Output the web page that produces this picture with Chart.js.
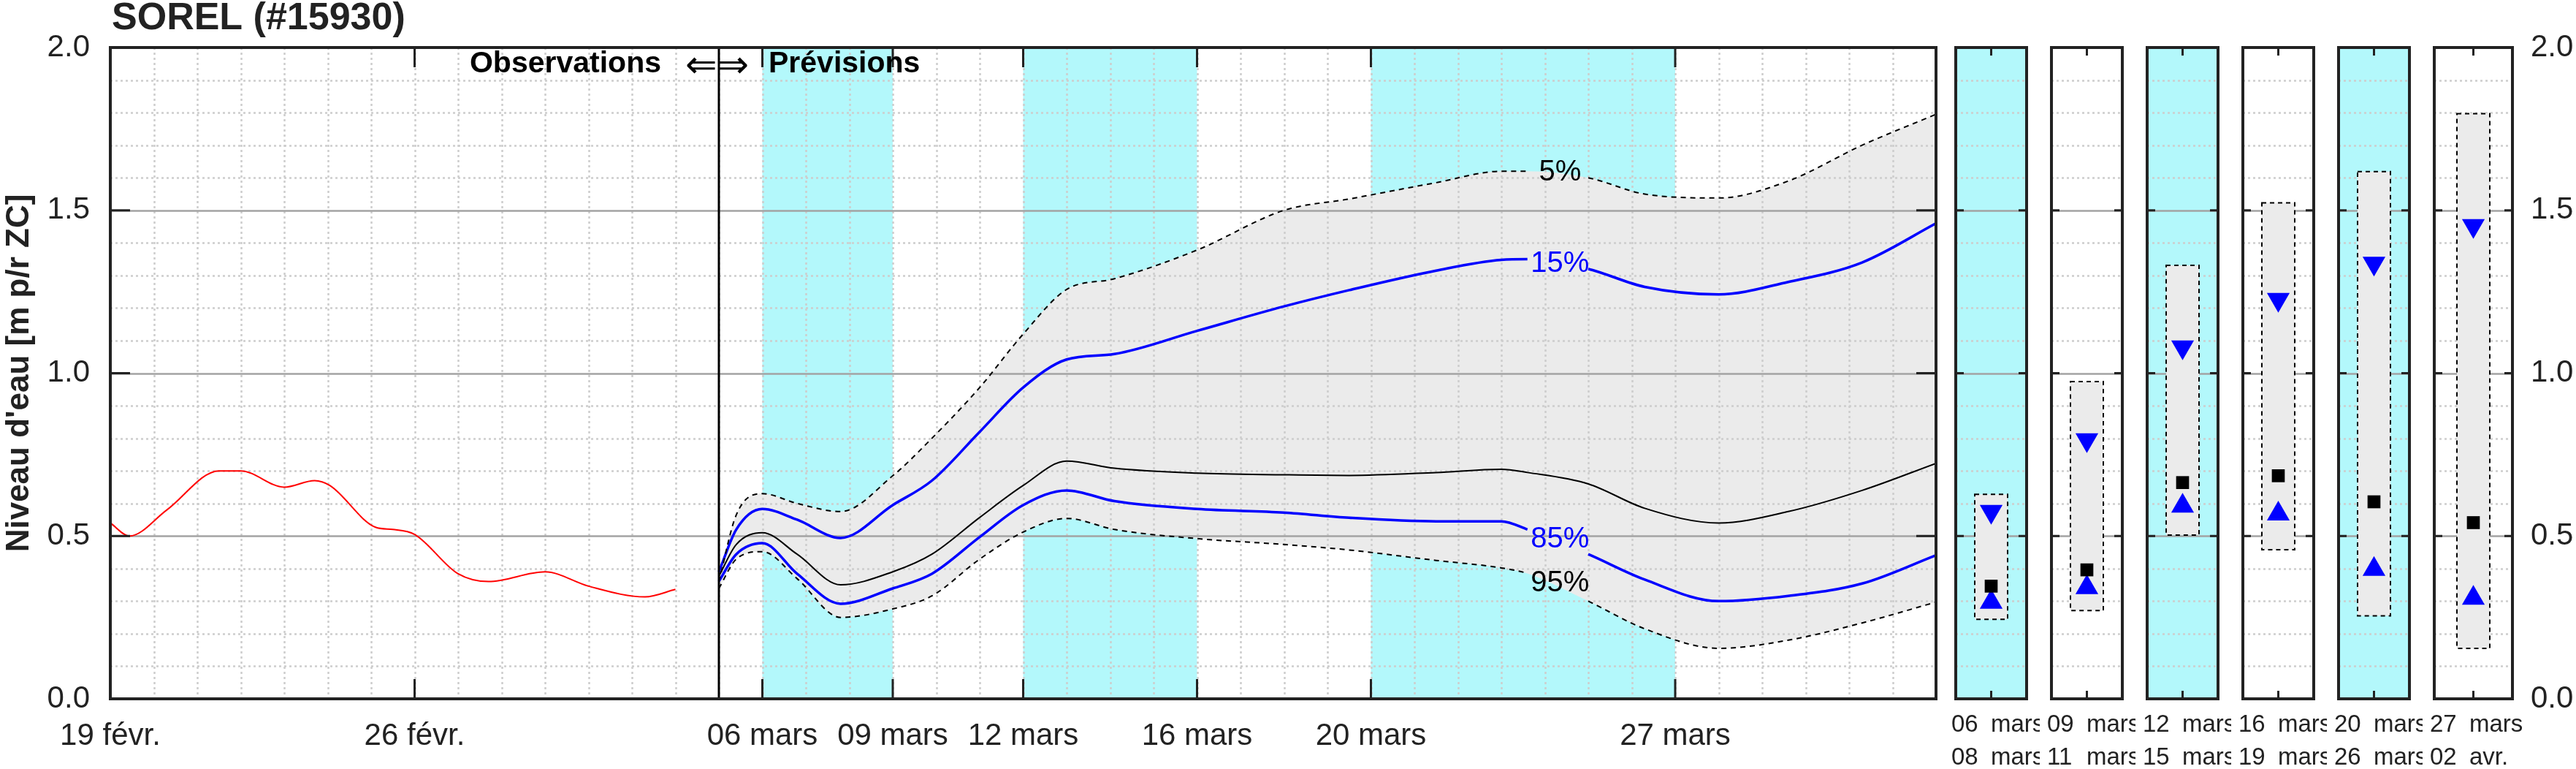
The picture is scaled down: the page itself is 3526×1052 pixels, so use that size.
<!DOCTYPE html>
<html><head><meta charset="utf-8">
<script src="https://cdn.jsdelivr.net/npm/chart.js@4"></script>
<style>
html,body{margin:0;padding:0;background:#fff;width:3526px;height:1052px;overflow:hidden}
.c{position:absolute;top:0;height:1052px}
</style></head><body>
<div class="c" id="mainBox" style="left:0;width:2653px"><canvas id="main"></canvas></div>
<div id="panels"></div>
<script>
// ---------- DATA ----------
const stationTitle = 'SOREL (#15930)';
const yTickValues = [0, 0.5, 1.0, 1.5, 2.0];
// x in days since 19 févr.
const xTickDays   = [0, 7, 15, 18, 21, 25, 29, 36];
const xTickLabels = ['19 févr.', '26 févr.', '06 mars', '09 mars', '12 mars', '16 mars', '20 mars', '27 mars'];
const forecastStartDay = 14;
const shadedBands = [[15, 18], [21, 25], [29, 36]];

const obsDays   = [0, 0.44, 1.3, 2.5, 3.0, 4.0, 4.7, 5.05, 6.1, 6.5, 7.0, 8.0, 8.7, 10.0, 11.0, 12.3, 13.0];
const obsLevels = [0.54, 0.50, 0.58, 0.70, 0.70, 0.65, 0.67, 0.655, 0.527, 0.52, 0.505, 0.384, 0.36, 0.39, 0.346, 0.313, 0.336];

const fcDays = [14, 14.4, 15, 15.8, 16.8, 18, 18.9, 20, 21, 22, 23.1, 25, 27, 28.5, 30.5, 32, 32.6, 34, 35.3, 37, 38.6, 40.3, 42];
const p05 = [0.36, 0.565, 0.63, 0.60, 0.575, 0.685, 0.80, 0.956, 1.12, 1.257, 1.29, 1.378, 1.50, 1.535, 1.585, 1.62, 1.62, 1.60, 1.55, 1.538, 1.59, 1.70, 1.795];
const p15 = [0.39, 0.52, 0.583, 0.55, 0.494, 0.595, 0.67, 0.82, 0.956, 1.042, 1.059, 1.13, 1.205, 1.255, 1.315, 1.348, 1.35, 1.32, 1.265, 1.242, 1.28, 1.34, 1.46];
const p50 = [0.377, 0.474, 0.51, 0.444, 0.35, 0.39, 0.444, 0.557, 0.655, 0.73, 0.708, 0.693, 0.688, 0.686, 0.695, 0.705, 0.695, 0.66, 0.585, 0.54, 0.575, 0.64, 0.723];
const p85 = [0.361, 0.444, 0.478, 0.384, 0.292, 0.339, 0.384, 0.497, 0.595, 0.64, 0.607, 0.583, 0.572, 0.556, 0.545, 0.545, 0.52, 0.444, 0.366, 0.30, 0.316, 0.354, 0.441];
const p95 = [0.339, 0.429, 0.452, 0.369, 0.25, 0.276, 0.316, 0.429, 0.512, 0.554, 0.52, 0.492, 0.474, 0.457, 0.425, 0.402, 0.385, 0.30, 0.215, 0.155, 0.18, 0.233, 0.297];
const curveLabels = ['5%', '15%', '85%', '95%'];
const curveLabelDay = 33.35;
const curveLabelLevel = [1.616, 1.336, 0.49, 0.354];
const labelGap = [32.6, 34.0];

// summary panels
const panelFrom  = ['06', '09', '12', '16', '20', '27'];
const panelFromM = ['mars', 'mars', 'mars', 'mars', 'mars', 'mars'];
const panelTo    = ['08', '11', '15', '19', '26', '02'];
const panelToM   = ['mars', 'mars', 'mars', 'mars', 'mars', 'avr.'];
const panelShaded = [true, false, true, false, true, false];
const panel05 = [0.628, 0.974, 1.331, 1.523, 1.619, 1.797];
const panel15 = [0.575, 0.795, 1.08, 1.226, 1.337, 1.453];
const panel50 = [0.346, 0.396, 0.664, 0.685, 0.605, 0.541];
const panel85 = [0.297, 0.342, 0.592, 0.568, 0.398, 0.309];
const panel95 = [0.244, 0.271, 0.503, 0.458, 0.255, 0.155];

// ---------- STYLE ----------
const CYAN = '#b3f8fb', FILL = '#ebebeb', DOT = '#cdcdcd', MAJ = '#a3a3a3', INK = '#222';
const FONT = '"Liberation Sans", Arial, sans-serif';
Chart.defaults.devicePixelRatio = 1;
Chart.defaults.animation = false;
Chart.defaults.font.family = FONT;

const pts = (xs, ys) => xs.map((x, i) => ({x, y: ys[i]}));
const gapSeg = color => ctx => (ctx.p0.parsed.x >= labelGap[0] - 1e-6 && ctx.p1.parsed.x <= labelGap[1] + 1e-6) ? 'rgba(0,0,0,0)' : color;

function hGrid(ctx, ca, y) {
  for (let v = 1; v < 20; v++) {
    const val = v / 10, py = Math.round(y.getPixelForValue(val)) + 0.5;
    ctx.beginPath();
    if (v % 5 === 0) { ctx.setLineDash([]); ctx.strokeStyle = MAJ; ctx.lineWidth = 2.5; }
    else { ctx.setLineDash([3, 4]); ctx.strokeStyle = DOT; ctx.lineWidth = 2.5; }
    ctx.moveTo(ca.left, py); ctx.lineTo(ca.right, py); ctx.stroke();
  }
  ctx.setLineDash([]);
}

// ---------- MAIN CHART ----------
const mainPlugin = {
  id: 'mainDeco',
  beforeDatasetsDraw(chart) {
    const {ctx, chartArea: ca, scales: {x}} = chart;
    ctx.save();
    ctx.fillStyle = CYAN;
    shadedBands.forEach(([a, b]) => {
      const l = x.getPixelForValue(a), r = x.getPixelForValue(b);
      ctx.fillRect(l, ca.top, r - l, ca.bottom - ca.top);
    });
    ctx.restore();
  },
  afterDatasetDraw(chart, args) {
    if (args.index !== 1) return;
    const {ctx, chartArea: ca, scales: {x, y}} = chart;
    ctx.save();
    ctx.beginPath(); ctx.rect(ca.left, ca.top, ca.right - ca.left, ca.bottom - ca.top); ctx.clip();
    ctx.setLineDash([3, 4]); ctx.strokeStyle = DOT; ctx.lineWidth = 2.5;
    for (let d = 1; d < 42; d++) {
      const px = Math.round(x.getPixelForValue(d)) + 0.5;
      ctx.beginPath(); ctx.moveTo(px, ca.top); ctx.lineTo(px, ca.bottom); ctx.stroke();
    }
    hGrid(ctx, ca, y);
    ctx.restore();
  },
  afterDraw(chart) {
    const {ctx, chartArea: ca, scales: {x, y}} = chart;
    ctx.save();
    ctx.font = '40px ' + FONT; ctx.textAlign = 'center'; ctx.textBaseline = 'middle';
    const lc = ['#000', '#0000ff', '#0000ff', '#000'];
    curveLabels.forEach((t, i) => { ctx.fillStyle = lc[i]; ctx.fillText(t, x.getPixelForValue(curveLabelDay), y.getPixelForValue(curveLabelLevel[i])); });
    const dx = x.getPixelForValue(forecastStartDay);
    ctx.strokeStyle = '#000'; ctx.lineWidth = 3;
    ctx.beginPath(); ctx.moveTo(dx, ca.top); ctx.lineTo(dx, ca.bottom); ctx.stroke();
    ctx.strokeStyle = INK; ctx.lineWidth = 3;
    xTickDays.forEach(d => {
      const px = x.getPixelForValue(d);
      ctx.beginPath(); ctx.moveTo(px, ca.bottom); ctx.lineTo(px, ca.bottom - 27);
      ctx.moveTo(px, ca.top); ctx.lineTo(px, ca.top + 27); ctx.stroke();
    });
    [0.5, 1.0, 1.5].forEach(v => {
      const py = y.getPixelForValue(v);
      ctx.beginPath(); ctx.moveTo(ca.left, py); ctx.lineTo(ca.left + 27, py);
      ctx.moveTo(ca.right, py); ctx.lineTo(ca.right - 27, py); ctx.stroke();
    });
    ctx.lineWidth = 4; ctx.strokeRect(ca.left, ca.top, ca.right - ca.left, ca.bottom - ca.top);
    ctx.fillStyle = INK; ctx.textBaseline = 'middle';
    ctx.font = 'bold 52px ' + FONT; ctx.textAlign = 'left';
    ctx.fillText(stationTitle, 153, 26);
    ctx.fillStyle = '#000';
    ctx.font = 'bold 41px ' + FONT; ctx.textAlign = 'right';
    ctx.fillText('Observations', 905, 88);
    ctx.textAlign = 'left';
    ctx.fillText('Prévisions', 1052, 88);
    ctx.font = '52px "DejaVu Sans"';
    ctx.fillText('⇐⇒', 938, 92);
    ctx.restore();
  }
};

new Chart(document.getElementById('main'), {
  type: 'line',
  data: {
    datasets: [
      {data: pts(fcDays, p05), borderWidth: 0, pointRadius: 0, fill: 1, backgroundColor: FILL, order: 20, cubicInterpolationMode: 'monotone'},
      {data: pts(fcDays, p95), borderWidth: 0, pointRadius: 0, fill: false, order: 19, cubicInterpolationMode: 'monotone'},
      {data: pts(fcDays, p05), borderColor: '#000', borderWidth: 2, borderDash: [7, 6], pointRadius: 0, fill: false, cubicInterpolationMode: 'monotone', segment: {borderColor: gapSeg('#000')}},
      {data: pts(fcDays, p15), borderColor: '#0000ff', borderWidth: 3.5, pointRadius: 0, fill: false, cubicInterpolationMode: 'monotone', segment: {borderColor: gapSeg('#0000ff')}},
      {data: pts(fcDays, p50), borderColor: '#000', borderWidth: 2, pointRadius: 0, fill: false, cubicInterpolationMode: 'monotone'},
      {data: pts(fcDays, p85), borderColor: '#0000ff', borderWidth: 3.5, pointRadius: 0, fill: false, cubicInterpolationMode: 'monotone', segment: {borderColor: gapSeg('#0000ff')}},
      {data: pts(fcDays, p95), borderColor: '#000', borderWidth: 2, borderDash: [7, 6], pointRadius: 0, fill: false, cubicInterpolationMode: 'monotone', segment: {borderColor: gapSeg('#000')}},
      {data: pts(obsDays, obsLevels), borderColor: '#ff0000', borderWidth: 2, pointRadius: 0, fill: false, cubicInterpolationMode: 'monotone'}
    ]
  },
  options: {
    responsive: true, maintainAspectRatio: false,
    layout: {padding: {top: 65, right: 3, left: 0, bottom: 0}},
    plugins: {legend: {display: false}, tooltip: {enabled: false}},
    scales: {
      x: {type: 'linear', min: 0, max: 42, grid: {display: false}, border: {display: false},
        afterFit: s => { s.height = 96; },
        afterBuildTicks: s => { s.ticks = xTickDays.map(v => ({value: v})); },
        ticks: {autoSkip: false, maxRotation: 0, padding: 18, color: INK, font: {size: 42},
          callback: v => { const i = xTickDays.indexOf(v); return i >= 0 ? xTickLabels[i] : ''; }}},
      y: {min: 0, max: 2, grid: {display: false}, border: {display: false},
        afterFit: s => { s.width = 151; },
        afterBuildTicks: s => { s.ticks = yTickValues.map(v => ({value: v})); },
        ticks: {padding: 20, color: INK, font: {size: 42}, callback: v => v.toFixed(1)},
        title: {display: true, text: "Niveau d'eau [m p/r ZC]", color: INK, font: {size: 44, weight: 'bold'}, padding: {top: 0, bottom: 0}}}
    }
  },
  plugins: [mainPlugin]
});

// ---------- PANELS ----------
const panelLeft = [2668.5, 2799.6, 2930.8, 3062, 3193, 3324];
const panelW = 113;
panelLeft.forEach((L, i) => {
  const last = i === panelLeft.length - 1;
  const div = document.createElement('div');
  div.className = 'c';
  div.style.left = (L - 10) + 'px';
  div.style.width = (last ? 3526 - (L - 10) : panelW + 20) + 'px';
  const cv = document.createElement('canvas');
  div.appendChild(cv);
  document.getElementById('panels').appendChild(div);
  const plug = {
    id: 'panel' + i,
    beforeDatasetsDraw(chart) {
      const {ctx, chartArea: ca, scales: {x, y}} = chart;
      ctx.save();
      if (panelShaded[i]) { ctx.fillStyle = CYAN; ctx.fillRect(ca.left, ca.top, ca.right - ca.left, ca.bottom - ca.top); }
      hGrid(ctx, ca, y);
      const cx = x.getPixelForValue(0), hw = 22.5;
      const t = y.getPixelForValue(panel05[i]), b = y.getPixelForValue(panel95[i]);
      ctx.fillStyle = FILL; ctx.fillRect(cx - hw, t, 2 * hw, b - t);
      ctx.setLineDash([6, 5]); ctx.strokeStyle = '#000'; ctx.lineWidth = 2;
      ctx.strokeRect(cx - hw, t, 2 * hw, b - t);
      ctx.restore();
    },
    afterDraw(chart) {
      const {ctx, chartArea: ca, scales: {x, y}} = chart;
      ctx.save();
      ctx.strokeStyle = INK; ctx.lineWidth = 3;
      const cx = x.getPixelForValue(0);
      ctx.beginPath();
      ctx.moveTo(cx, ca.top); ctx.lineTo(cx, ca.top + 11);
      ctx.moveTo(cx, ca.bottom); ctx.lineTo(cx, ca.bottom - 11);
      [0.5, 1.0, 1.5].forEach(v => {
        const py = y.getPixelForValue(v);
        ctx.moveTo(ca.left, py); ctx.lineTo(ca.left + 11, py);
        ctx.moveTo(ca.right, py); ctx.lineTo(ca.right - 11, py);
      });
      ctx.stroke();
      ctx.lineWidth = 4; ctx.strokeRect(ca.left, ca.top, ca.right - ca.left, ca.bottom - ca.top);
      ctx.fillStyle = INK; ctx.font = '33px ' + FONT; ctx.textAlign = 'left'; ctx.textBaseline = 'middle';
      ctx.fillText(panelFrom[i], ca.left - 6, 992);
      ctx.fillText(panelFromM[i], ca.left + 48, 992);
      ctx.fillText(panelTo[i], ca.left - 6, 1037);
      ctx.fillText(panelToM[i], ca.left + 48, 1037);
      ctx.restore();
    }
  };
  new Chart(cv, {
    type: 'scatter',
    data: {datasets: [
      {data: [{x: 0, y: panel15[i]}], pointStyle: 'triangle', rotation: 180, pointRadius: 18, backgroundColor: '#0000ff', borderWidth: 0},
      {data: [{x: 0, y: panel50[i]}], pointStyle: 'rect', pointRadius: 12.5, backgroundColor: '#000', borderWidth: 0},
      {data: [{x: 0, y: panel85[i]}], pointStyle: 'triangle', pointRadius: 18, backgroundColor: '#0000ff', borderWidth: 0}
    ]},
    options: {
      responsive: true, maintainAspectRatio: false,
      layout: {padding: {top: 65, bottom: 96, left: 10, right: last ? 0 : 10}},
      plugins: {legend: {display: false}, tooltip: {enabled: false}},
      scales: {
        x: {type: 'linear', min: -1, max: 1, display: false},
        y: {min: 0, max: 2, display: last, position: 'right', grid: {display: false}, border: {display: false},
          afterFit: s => { s.width = last ? 87 : 0; },
          afterBuildTicks: s => { s.ticks = yTickValues.map(v => ({value: v})); },
          ticks: {padding: 17, color: INK, font: {size: 42}, callback: v => v.toFixed(1)}}
      }
    },
    plugins: [plug]
  });
});
</script></body></html>
